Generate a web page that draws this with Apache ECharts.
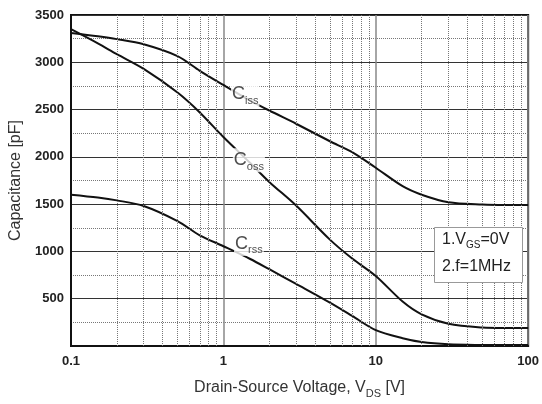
<!DOCTYPE html>
<html>
<head>
<meta charset="utf-8">
<script src="https://cdn.jsdelivr.net/npm/echarts@6/dist/echarts.min.js"></script>
<style>
  html, body { margin: 0; padding: 0; background: #fff; }
  #main { width: 542px; height: 404px; }
</style>
</head>
<body>
<div id="main"></div>
<script>
// capacitance vs drain-source voltage
var vds = [0.1, 0.15, 0.2, 0.3, 0.5, 0.7, 1, 1.5, 2, 3, 5, 7, 10, 15, 20, 30, 50, 70, 100];
var ciss = [3310, 3275, 3245, 3190, 3065, 2910, 2760, 2595, 2490, 2350, 2165, 2050, 1885, 1690, 1600, 1520, 1495, 1490, 1490];
var coss = [3350, 3200, 3085, 2930, 2680, 2470, 2210, 1935, 1735, 1485, 1125, 925, 740, 470, 335, 235, 195, 190, 190];
var crss = [1600, 1570, 1540, 1480, 1320, 1170, 1055, 920, 812, 656, 458, 318, 167, 82, 42, 18, 11, 10, 10];

// curve labels (C + subscript) and where they sit
var curveSubs = ['iss', 'oss', 'rss'];
var labelV = [1.39, 1.47, 1.47];
var labelC = [2660, 1965, 1080];

// dotted vertical minor grid lines
var minorX = [0.2, 0.3, 0.4, 0.5, 0.6, 0.7, 0.8, 0.9, 2, 3, 4, 5, 6, 7, 8, 9, 20, 30, 40, 50, 60, 70, 80, 90];

var font = 'Liberation Sans, Arial, sans-serif';

function pairs(xs, ys) {
    var out = [];
    for (var i = 0; i < xs.length; i++) out.push([xs[i], ys[i]]);
    return out;
}

var curveStyle = { color: '#111', width: 2 };

function curve(ys) {
    return {
        type: 'line', smooth: 0.3, symbol: 'none',
        silent: true, lineStyle: curveStyle, data: pairs(vds, ys)
    };
}

var myChart = echarts.init(document.getElementById('main'));
var option = {
    animation: false,
    backgroundColor: '#fff',
    grid: {
        left: 69, right: 11, top: 15, bottom: 53,
        show: true, borderColor: '#111', borderWidth: 2
    },
    xAxis: {
        type: 'log',
        logBase: 10,
        min: 0.1,
        max: 100,
        name: '{a|Drain-Source Voltage, V}{s|DS}{a| [V]}',
        nameLocation: 'middle',
        nameGap: 30,
        nameTextStyle: {
            rich: {
                a: { fontFamily: font, fontSize: 16, color: '#333' },
                s: { fontFamily: font, fontSize: 11, color: '#333', padding: [12, 0, 0, 0] }
            }
        },
        axisLine: { lineStyle: { color: '#111', width: 2 } },
        axisTick: { show: false },
        axisLabel: {
            fontFamily: font, fontSize: 13, fontWeight: 'bold', color: '#222', margin: 9,
            formatter: function (v) { return String(v); }
        },
        splitLine: { show: true, lineStyle: { color: '#888', width: 1.5 } }
    },
    yAxis: {
        type: 'value',
        min: 0,
        max: 3500,
        interval: 500,
        name: 'Capacitance [pF]',
        nameLocation: 'middle',
        nameGap: 47,
        nameTextStyle: { fontFamily: font, fontSize: 16, color: '#333' },
        axisLine: { lineStyle: { color: '#111', width: 2 } },
        axisTick: { show: false },
        axisLabel: {
            fontFamily: font, fontSize: 13, fontWeight: 'bold', color: '#222', margin: 7,
            formatter: function (v) { return v === 0 ? '' : String(v); }
        },
        splitLine: { show: true, lineStyle: { color: '#333', width: 1 } },
        minorTick: { show: false, splitNumber: 2 },
        minorSplitLine: { show: true, lineStyle: { color: '#777', type: 'dotted', width: 1 } }
    },
    series: [
        {
            type: 'line',
            data: [],
            silent: true,
            markLine: {
                silent: true,
                symbol: 'none',
                label: { show: false },
                lineStyle: { color: '#777', type: 'dotted', width: 1 },
                data: minorX.map(function (x) { return { xAxis: x }; })
            }
        },
        curve(ciss),
        curve(coss),
        curve(crss),
        {
            type: 'scatter',
            symbolSize: 0,
            z: 5,
            silent: true,
            data: curveSubs.map(function (s, i) {
                return {
                    value: [labelV[i], labelC[i]],
                    label: { formatter: '{c|C}{s|' + s + '}' }
                };
            }),
            label: {
                show: true,
                position: 'inside',
                backgroundColor: '#fff',
                padding: [0, 1, 0, 1],
                rich: {
                    c: { fontFamily: font, fontSize: 18, color: '#222' },
                    s: { fontFamily: font, fontSize: 11, color: '#222', padding: [13, 0, 0, 0] }
                }
            }
        }
    ],
    graphic: [
        {
            type: 'rect',
            left: 434, top: 227,
            shape: { width: 88, height: 55 },
            style: { fill: '#fff', stroke: '#999', lineWidth: 1 },
            z: 10
        },
        {
            type: 'text',
            left: 442, top: 232,
            z: 11,
            style: {
                text: '{a|1.V}{s|GS}{a|=0V}',
                rich: {
                    a: { fontFamily: font, fontSize: 16, fill: '#222' },
                    s: { fontFamily: font, fontSize: 10, fill: '#222', padding: [10, 0, 0, 0] }
                }
            }
        },
        {
            type: 'text',
            left: 442, top: 259,
            z: 11,
            style: { text: '2.f=1MHz', font: '16px ' + font, fill: '#222' }
        }
    ]
};
myChart.setOption(option);
</script>
</body>
</html>
